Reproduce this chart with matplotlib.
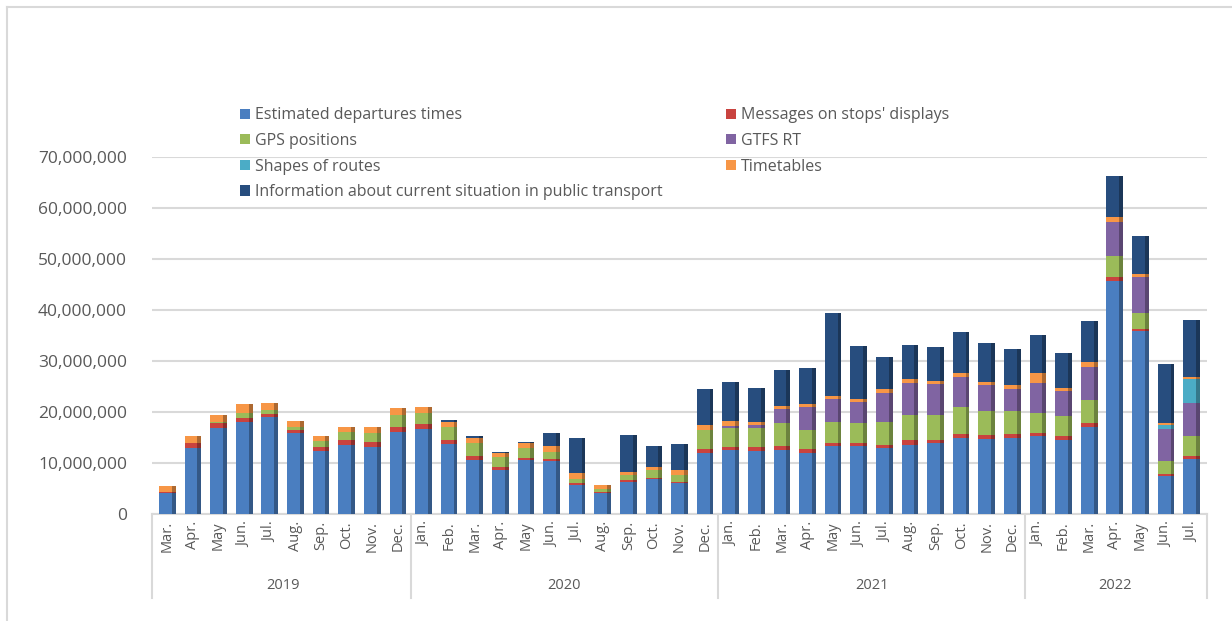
import numpy as np
import matplotlib.pyplot as plt
from matplotlib import colors as mcolors

plt.rcParams['font.family'] = ['Open Sans', 'DejaVu Sans']

months = ['Mar.', 'Apr.', 'May', 'Jun.', 'Jul.', 'Aug.', 'Sep.', 'Oct.', 'Nov.', 'Dec.',
          'Jan.', 'Feb.', 'Mar.', 'Apr.', 'May', 'Jun.', 'Jul.', 'Aug.', 'Sep.', 'Oct.', 'Nov.', 'Dec.',
          'Jan.', 'Feb.', 'Mar.', 'Apr.', 'May', 'Jun.', 'Jul.', 'Aug.', 'Sep.', 'Oct.', 'Nov.', 'Dec.',
          'Jan.', 'Feb.', 'Mar.', 'Apr.', 'May', 'Jun.', 'Jul.']
years = ['2019', '2020', '2021', '2022']
year_counts = [10, 12, 12, 7]

# values in millions
estimated = [4.2, 13.0, 16.9, 18.0, 19.0, 15.8, 12.4, 13.5, 13.1, 16.1,
             16.6, 13.7, 10.6, 8.6, 10.5, 10.4, 5.7, 4.1, 6.3, 6.8, 6.0, 12.0,
             12.5, 12.4, 12.5, 12.0, 13.3, 13.4, 12.9, 13.5, 14.0, 15.0, 14.8, 15.0,
             15.3, 14.6, 17.1, 45.7, 35.9, 7.5, 10.8]
messages = [0.2, 0.9, 0.9, 0.9, 0.7, 0.7, 0.8, 1.0, 1.0, 1.0,
            1.0, 0.9, 0.8, 0.6, 0.5, 0.3, 0.3, 0.2, 0.4, 0.3, 0.3, 0.7,
            0.7, 0.7, 0.8, 0.7, 0.7, 0.6, 0.6, 1.0, 0.6, 0.6, 0.7, 0.6,
            0.5, 0.7, 0.7, 0.7, 0.4, 0.3, 0.6]
gps = [0.0, 0.0, 0.3, 1.0, 0.7, 0.6, 1.1, 1.6, 1.8, 2.4,
       2.3, 2.5, 2.5, 1.9, 1.9, 1.5, 0.9, 0.6, 0.9, 1.5, 1.3, 3.8,
       3.6, 3.7, 4.6, 3.8, 4.1, 3.9, 4.6, 4.9, 4.9, 5.3, 4.7, 4.6,
       4.1, 3.9, 4.6, 4.2, 3.2, 2.6, 3.9]
gtfs = [0.0, 0.0, 0.0, 0.0, 0.0, 0.0, 0.0, 0.0, 0.0, 0.0,
        0.0, 0.0, 0.0, 0.0, 0.0, 0.0, 0.0, 0.0, 0.0, 0.0, 0.0, 0.0,
        0.5, 0.7, 2.6, 4.4, 4.4, 4.1, 5.6, 6.2, 5.9, 6.0, 5.1, 4.4,
        5.8, 4.9, 6.5, 6.7, 7.0, 6.2, 6.5]
shapes = [0.0] * 39 + [0.9, 4.6]
timetables = [1.0, 1.4, 1.4, 1.6, 1.4, 1.1, 1.0, 1.0, 1.2, 1.2,
              1.1, 0.9, 1.1, 0.8, 1.0, 1.2, 1.1, 0.8, 0.7, 0.6, 1.0, 1.0,
              1.0, 0.5, 0.7, 0.6, 0.6, 0.6, 0.8, 0.8, 0.7, 0.7, 0.6, 0.7,
              1.9, 0.7, 1.0, 1.0, 0.6, 0.4, 0.5]
information = [0.0, 0.0, 0.0, 0.0, 0.0, 0.0, 0.0, 0.0, 0.0, 0.0,
               0.0, 0.4, 0.3, 0.3, 0.3, 2.4, 7.0, 0.0, 7.2, 4.2, 5.1, 7.0,
               7.6, 6.8, 7.0, 7.2, 16.4, 10.4, 6.2, 6.7, 6.7, 8.1, 7.7, 7.0,
               7.5, 6.7, 8.0, 8.0, 7.4, 11.5, 11.1]

series = [
    ('Estimated departures times', estimated, '#4A7EC0'),
    ("Messages on stops' displays", messages, '#C9433F'),
    ('GPS positions', gps, '#9BBB59'),
    ('GTFS RT', gtfs, '#8064A2'),
    ('Shapes of routes', shapes, '#4BACC6'),
    ('Timetables', timetables, '#F79646'),
    ('Information about current situation in public transport', information, '#274D7E'),
]

text_color = '#595959'
grid_color = '#D9D9D9'

fig = plt.figure(figsize=(12.32, 6.21), dpi=100)
ax = fig.add_axes([152 / 1232, 107 / 621, 1055 / 1232, 357 / 621])

x = np.arange(len(months))
w = 0.5
side = 0.15
bottom = np.zeros(len(months))
handles = {}
for name, vals, col in series:
    v = np.array(vals) * 1e6
    dark = np.array(mcolors.to_rgb(col)) * 0.7
    b = ax.bar(x - side / 2, v, w, bottom=bottom, color=col, label=name, zorder=3)
    # darker strip on the right to mimic the 3D side face
    ax.bar(x - side / 2 + w / 2 + side / 2, v, side, bottom=bottom, color=dark, zorder=3)
    handles[name] = b
    bottom += v

ax.set_xlim(-0.6, 40.6)
ax.set_ylim(0, 70e6)
ax.set_yticks(np.arange(0, 70e6 + 1, 10e6))
ax.set_yticklabels([f'{int(t):,}' for t in np.arange(0, 70e6 + 1, 10e6)])
ax.yaxis.grid(True, color=grid_color, linewidth=1.5, zorder=0)
ax.set_axisbelow(True)
for s in ['top', 'right', 'left']:
    ax.spines[s].set_visible(False)
ax.spines['bottom'].set_color(grid_color)
ax.spines['bottom'].set_linewidth(1.5)
ax.tick_params(axis='y', length=0, labelsize=12.5, labelcolor=text_color, pad=18)
ax.set_xticks(x)
ax.set_xticklabels(months, rotation=90, fontsize=10.5, color=text_color)
ax.tick_params(axis='x', length=0, pad=5)

# year grouping
trans = ax.get_xaxis_transform()
edges = np.concatenate([[-0.6], np.cumsum(year_counts)[:-1] - 0.5, [40.6]])
for e in edges:
    ax.plot([e, e], [0, -0.235], transform=trans, color=grid_color, lw=1.5, clip_on=False)
start = 0
for yr, n in zip(years, year_counts):
    ax.text(start + (n - 1) / 2, -0.2, yr, transform=trans, ha='center', va='center',
            fontsize=10.5, color=text_color)
    start += n

# legend: order row-wise like the original
order = ['Estimated departures times', 'GPS positions', 'Shapes of routes',
         'Information about current situation in public transport',
         "Messages on stops' displays", 'GTFS RT', 'Timetables']
leg = fig.legend([handles[k] for k in order], order, ncol=2, loc='upper left',
                 bbox_to_anchor=(226 / 1232, 1 - 93 / 621), frameon=False,
                 fontsize=11.5, handlelength=0.6, handleheight=0.6, handletextpad=0.3,
                 labelspacing=0.6, columnspacing=4.0, labelcolor=text_color)

# outer frame lines
fig.add_artist(plt.Line2D([7 / 1232, 7 / 1232], [0, 1 - 7 / 621], color=grid_color, lw=1.5))
fig.add_artist(plt.Line2D([7 / 1232, 1], [1 - 7 / 621, 1 - 7 / 621], color=grid_color, lw=1.5))

fig.savefig('out.png', dpi=100)
